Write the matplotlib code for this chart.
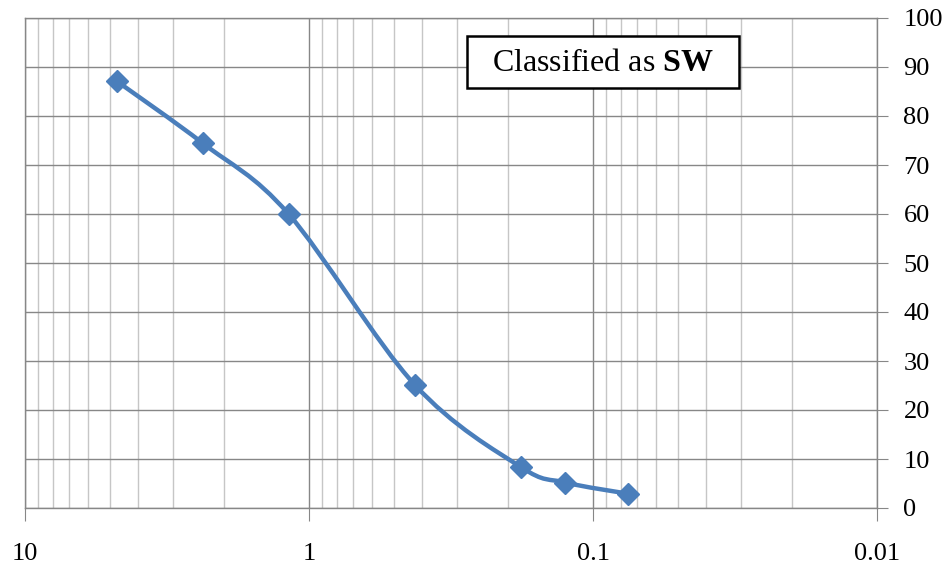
import numpy as np
import matplotlib
matplotlib.use("Agg")
import matplotlib.pyplot as plt
from matplotlib.path import Path
from matplotlib.patches import PathPatch, Rectangle
from matplotlib.ticker import FixedLocator, LogLocator, NullFormatter

# sieve sizes (mm) and percent passing
sizes = [4.75, 2.36, 1.18, 0.425, 0.18, 0.125, 0.075]
passing = [87.1, 74.4, 60.0, 25.2, 8.4, 5.2, 2.9]
x_ticks = [10, 1, 0.1, 0.01]
x_labels = ["10", "1", "0.1", "0.01"]
y_ticks = list(range(0, 101, 10))

blue = "#4a7ebb"
major_c = "#878787"
minor_c = "#c6c6c6"

plt.rcParams["font.family"] = ["Liberation Serif", "DejaVu Serif"]
plt.rcParams["mathtext.fontset"] = "custom"
plt.rcParams["mathtext.rm"] = "Liberation Serif"
plt.rcParams["mathtext.bf"] = "Liberation Serif:bold"

fig = plt.figure(figsize=(9.46, 5.63), dpi=100)
ax = fig.add_axes([25 / 946, 55 / 563, 852 / 946, 490 / 563])
ax.set_xscale("log")
ax.set_xlim(10, 0.01)
ax.set_ylim(0, 100)

# smoothed line (Excel style bezier), built in pixel-like space
W, H = 852.0, 490.0
u = (1 - np.log10(sizes)) / 3 * W
v = np.array(passing) / 100 * H
pts = np.column_stack([u, v])
n = len(pts)
verts = [pts[0]]
codes = [Path.MOVETO]
for i in range(n - 1):
    p0 = pts[i - 1] if i > 0 else pts[i]
    p1 = pts[i]
    p2 = pts[i + 1]
    p3 = pts[i + 2] if i + 2 < n else pts[i + 1]
    c1 = p1 + (p2 - p0) / 6
    c2 = p2 - (p3 - p1) / 6
    verts += [c1, c2, p2]
    codes += [Path.CURVE4] * 3
verts = np.array(verts)
data_verts = np.column_stack([10 ** (1 - verts[:, 0] / W * 3), verts[:, 1] / H * 100])
curve = PathPatch(Path(data_verts, codes), facecolor="none", edgecolor=blue,
                  lw=3.2, capstyle="round", joinstyle="round", zorder=3)
ax.add_patch(curve)
ax.plot(sizes, passing, linestyle="none", marker="D", markersize=11,
        color=blue, zorder=4)

# grid
ax.xaxis.set_major_locator(FixedLocator(x_ticks))
ax.xaxis.set_minor_locator(LogLocator(base=10, subs=np.arange(2, 10), numticks=20))
ax.xaxis.set_minor_formatter(NullFormatter())
ax.set_xticklabels(x_labels)
ax.set_yticks(y_ticks)
ax.grid(which="major", color=major_c, lw=1.0)
ax.grid(which="minor", axis="x", color=minor_c, lw=1.0)
ax.set_axisbelow(True)

for s in ax.spines.values():
    s.set_color(major_c)
    s.set_linewidth(1.0)

ax.yaxis.tick_right()
ax.tick_params(axis="y", which="major", direction="out", length=8, color=major_c,
               labelsize=19, pad=11)
ax.tick_params(axis="x", which="major", direction="out", length=9, color=major_c,
               labelsize=19, pad=16)
ax.tick_params(axis="x", which="minor", length=0)
for lab in ax.get_yticklabels():
    lab.set_horizontalalignment("left")

# label box
ax.add_patch(Rectangle((0.5188, 0.857), 0.3192, 0.1063, transform=ax.transAxes,
                       facecolor="white", edgecolor="black", lw=1.8, zorder=5))
ax.text(0.6784, 0.908, "Classified as $\\mathbf{SW}$", transform=ax.transAxes,
        ha="center", va="center", fontsize=23, zorder=6)

fig.savefig("out.png", dpi=100)
